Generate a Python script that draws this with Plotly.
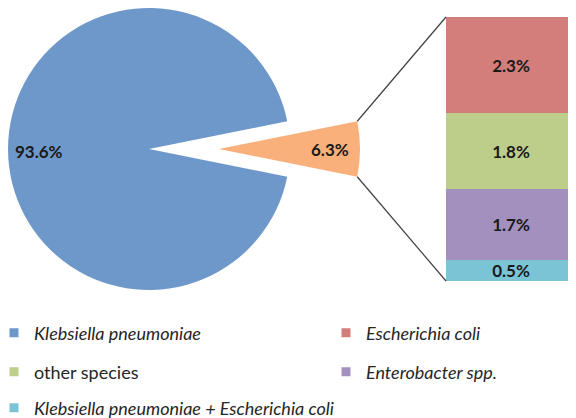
import math
import plotly.graph_objects as go

# ---------------- data ----------------
pie_labels = ["Klebsiella pneumoniae", "other"]
pie_values = [93.6, 6.3]
pie_colors = ["#6F98CA", "#F9B07A"]

bar_labels = ["Escherichia coli", "other species", "Enterobacter spp.",
              "Klebsiella pneumoniae + Escherichia coli"]
bar_values = [2.3, 1.8, 1.7, 0.5]
bar_colors = ["#D47E7C", "#BCCE8A", "#A390BF", "#7BC4D6"]

legend_names = ["<i>Klebsiella pneumoniae</i>", "<i>Escherichia coli</i>",
                "other species", "<i>Enterobacter spp.</i>",
                "<i>Klebsiella pneumoniae + Escherichia coli</i>"]
legend_colors = [pie_colors[0]] + bar_colors

# ---------------- layout geometry (window pixels) ----------------
WIN_W, WIN_H = 576, 418
OFF = 8                      # default page body margin
W, H = WIN_W - OFF, WIN_H - OFF
R = 141                      # pie radius
CX, CY = 149, 149            # main pie centre
EXPLODE = 70                 # offset of the detached slice
BAR_X0 = 446
BAR_TOP, BAR_BOT = 17, 281

def px(x):
    return (x - OFF) / W

def py(y):
    return 1 - (y - OFF) / H

FONT = "Lato, 'Open Sans', sans-serif"
TRANSPARENT = "rgba(0,0,0,0)"

fig = go.Figure()

total = sum(pie_values)
half = pie_values[1] / total * 180.0      # half-angle of small slice (deg)
rotation = 90 - half

# main (blue) pie; the small slice is left transparent (gap)
fig.add_trace(go.Pie(
    labels=[pie_labels[1] + " (gap)", pie_labels[0]],
    values=[pie_values[1], pie_values[0]], sort=False, direction="clockwise",
    rotation=rotation,
    marker=dict(colors=[TRANSPARENT, pie_colors[0]], line=dict(width=0)),
    textinfo="none", showlegend=False,
    domain=dict(x=[px(CX - R), px(CX + R)], y=[py(CY + R), py(CY - R)]),
))
# detached (orange) slice
fig.add_trace(go.Pie(
    labels=[pie_labels[1], pie_labels[0] + " (gap)"],
    values=[pie_values[1], pie_values[0]], sort=False, direction="clockwise",
    rotation=rotation,
    marker=dict(colors=[pie_colors[1], TRANSPARENT], line=dict(width=0)),
    textinfo="none", showlegend=False,
    domain=dict(x=[px(CX + EXPLODE - R), px(CX + EXPLODE + R)],
                y=[py(CY + R), py(CY - R)]),
))

# stacked bar (bottom to top)
for lab, val, col in reversed(list(zip(bar_labels, bar_values, bar_colors))):
    fig.add_trace(go.Bar(
        x=[0], y=[val], name=lab, marker=dict(color=col, line=dict(width=0)),
        text=[f"<b>{val}%</b>"], textposition="inside", insidetextanchor="middle",
        textfont=dict(family=FONT, size=17, color="#1A1A1A"),
        constraintext="none", showlegend=False, width=1,
    ))

# legend entries
legend_ids = ["legend", "legend2", "legend3", "legend4", "legend5"]
for name, col, lid in zip(legend_names, legend_colors, legend_ids):
    fig.add_trace(go.Scatter(
        x=[None], y=[None], mode="markers", name=name,
        marker=dict(symbol="square", size=9, color=col),
        legend=lid, showlegend=True,
    ))

# pie labels
fig.add_annotation(x=px(CX - 0.78 * R), y=py(CY + 2), xref="paper", yref="paper",
                   xanchor="center", yanchor="middle",
                   text=f"<b>{pie_values[0]}%</b>", showarrow=False,
                   font=dict(family=FONT, size=17, color="#1A1A1A"))
fig.add_annotation(x=px(CX + EXPLODE + 0.79 * R), y=py(CY), xref="paper", yref="paper",
                   xanchor="center", yanchor="middle",
                   text=f"<b>{pie_values[1]}%</b>", showarrow=False,
                   font=dict(family=FONT, size=17, color="#1A1A1A"))

# connector lines from the detached slice to the bar
hr = math.radians(half)
ex = CX + EXPLODE + R * math.cos(hr)
ey_top = CY - R * math.sin(hr)
ey_bot = CY + R * math.sin(hr)
for (x0, y0, x1, y1) in [(ex, ey_top, BAR_X0, BAR_TOP), (ex, ey_bot, BAR_X0, BAR_BOT)]:
    fig.add_shape(type="line", xref="paper", yref="paper",
                  x0=px(x0), y0=py(y0), x1=px(x1), y1=py(y1),
                  line=dict(color="#404040", width=1.2))

legend_pos = [(-6, 333), (326, 333), (-6, 372), (326, 372), (-6, 408)]
leg_cfg = {}
for lid, (lx, ly) in zip(legend_ids, legend_pos):
    leg_cfg[lid] = dict(x=px(lx), y=py(ly), xanchor="left", yanchor="middle",
                        orientation="h", itemsizing="trace", itemwidth=30,
                        bgcolor="rgba(0,0,0,0)",
                        font=dict(family=FONT, size=18, color="#262626"))

fig.update_layout(
    width=W, height=H,
    margin=dict(l=0, r=0, t=0, b=0, pad=0, autoexpand=False),
    paper_bgcolor="white", plot_bgcolor="white",
    barmode="stack", bargap=0,
    xaxis=dict(domain=[px(BAR_X0), 1], range=[-0.5, 0.5], visible=False, fixedrange=True),
    yaxis=dict(domain=[py(BAR_BOT), py(BAR_TOP)], range=[0, sum(bar_values)],
               visible=False, fixedrange=True),
    **leg_cfg,
)

fig.write_html("out.html")
